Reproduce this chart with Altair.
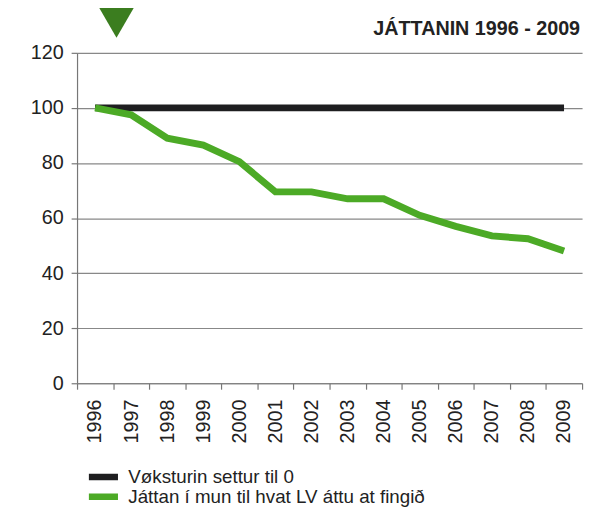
import altair as alt
import pandas as pd

years = [str(y) for y in range(1996, 2010)]
baseline = [100, 100, 100, 100, 100, 100, 100, 100, 100, 100, 100, 100, 100, 100]
actual = [100, 97.5, 89, 86.5, 80.5, 69.5, 69.5, 67, 67, 61, 57, 53.5, 52.5, 48]
series_names = ["Vøksturin settur til 0", "Játtan í mun til hvat LV áttu at fingið"]
colors = ["#1e1e20", "#4caa26"]
y_ticks = [0, 20, 40, 60, 80, 100, 120]
title_text = "JÁTTANIN 1996 - 2009"

rows = []
for yr, v in zip(years, baseline):
    rows.append({"year": yr, "value": v, "series": series_names[0]})
for yr, v in zip(years, actual):
    rows.append({"year": yr, "value": v, "series": series_names[1]})
df = pd.DataFrame(rows)

FONT = "Liberation Sans"

lines = alt.Chart(df).mark_line(strokeWidth=7, strokeCap="butt", strokeJoin="miter").encode(
    x=alt.X(
        "year:O",
        bandPosition=0.5,
        sort=years,
        scale=alt.Scale(type="band", paddingInner=0, paddingOuter=0),
        axis=alt.Axis(
            title=None, labelAngle=-90, tickBand="extent", tickSize=6,
            labelPadding=10, grid=False,
        ),
    ),
    y=alt.Y(
        "value:Q",
        scale=alt.Scale(domain=[0, 120]),
        axis=alt.Axis(title=None, values=y_ticks, tickSize=6, labelPadding=8, grid=True),
    ),
    color=alt.Color(
        "series:N",
        sort=series_names,
        scale=alt.Scale(domain=series_names, range=colors),
        legend=alt.Legend(
            title=None, orient="none", legendX=12, legendY=420, direction="vertical",
            symbolType="M-1.6,0H1.6", symbolStrokeWidth=6.5, symbolSize=400,
            labelFontSize=19, labelFont=FONT, labelColor="#222", labelOffset=13,
            labelLimit=0, rowPadding=0, clipHeight=20,
        ),
    ),
)

marker = alt.Chart(pd.DataFrame({"k": [0]})).mark_point(
    shape="triangle-down", filled=True, size=2300, color="#3b7d1f", opacity=1
).encode(x=alt.value(40), y=alt.value(-36))

title_mark = alt.Chart(pd.DataFrame({"t": [title_text]})).mark_text(
    align="right", baseline="alphabetic", fontSize=20, fontWeight="bold",
    font=FONT, color="#222"
).encode(text="t:N", x=alt.value(510), y=alt.value(-18))

chart = alt.layer(lines, marker, title_mark).properties(
    width=512,
    height=335,
    autosize=alt.AutoSizeParams(type="none"),
    padding={"left": 70, "top": 42, "right": 5, "bottom": 123},
).configure_view(stroke=None).configure_axis(
    domainColor="#777", gridColor="#888", tickColor="#777", gridWidth=1.2,
    domainWidth=1.2, tickWidth=1.2,
    labelFont=FONT, labelFontSize=20, labelColor="#222",
)

chart.save("out.html", embed_options={"renderer": "svg", "actions": False})
